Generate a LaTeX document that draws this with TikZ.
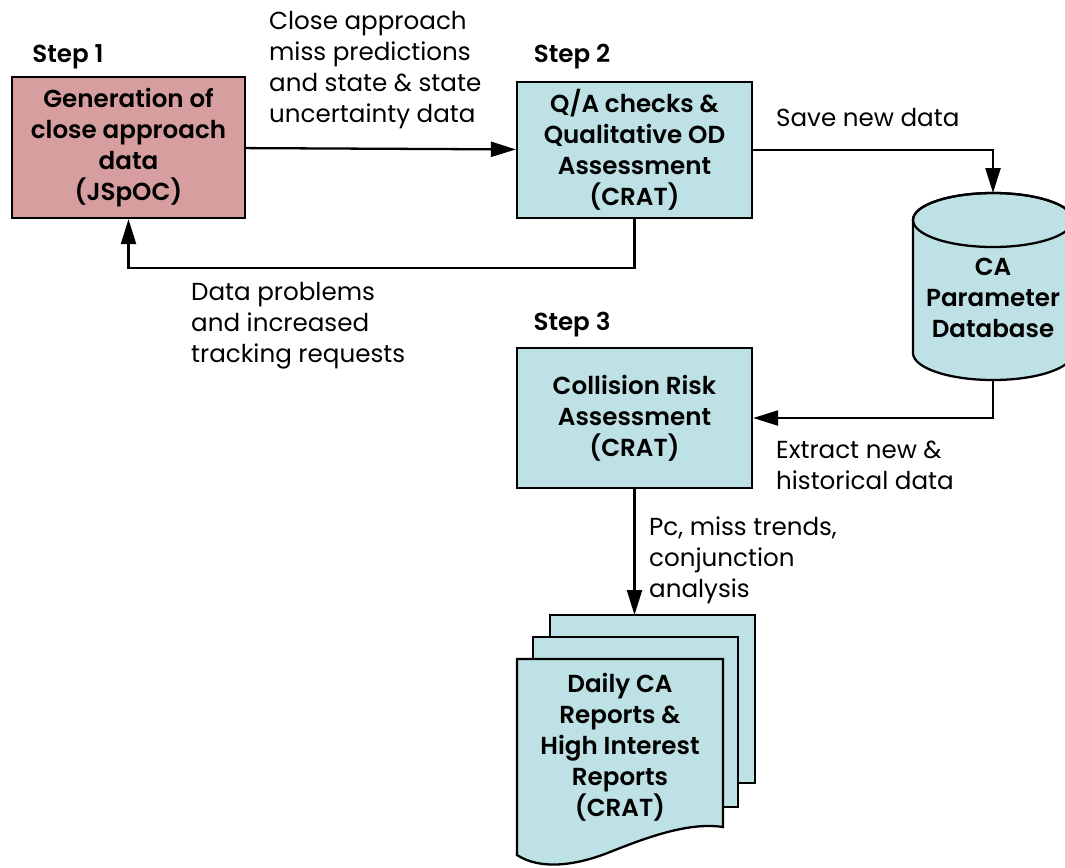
\documentclass[tikz,border=0pt]{standalone}
\usepackage{fontspec}
\setmainfont{Poppins}[BoldFont={Poppins SemiBold}]
\usepackage{xcolor}
\usetikzlibrary{arrows.meta,positioning}
\definecolor{boxcyan}{RGB}{189,225,228}
\definecolor{boxred}{RGB}{214,158,158}

\begin{document}
\begin{tikzpicture}[
    x=0.02cm, y=-0.02cm,
    >={Triangle[length=0.5cm,width=0.3cm]},
    line width=1.3pt,
    every node/.style={font=\fontsize{14}{17.6}\selectfont},
    stepbox/.style={rectangle, draw, fill=boxcyan, align=center, inner sep=0pt,
                    font=\bfseries\fontsize{14}{17.6}\selectfont},
    steplabel/.style={font=\bfseries\fontsize{14}{17.6}\selectfont, inner sep=0pt},
    note/.style={align=left, anchor=west, inner sep=0pt},
    page/.style={draw, fill=boxcyan}
]
  \useasboundingbox (0,0) rectangle (1065,867);

  % nodes
  \node[stepbox, fill=boxred, minimum width=4.66cm, minimum height=2.82cm] (gen) at (128.5,147.5)
       {Generation of\\close approach\\data\\(JSpOC)};
  \node[stepbox, minimum width=4.7cm, minimum height=2.72cm] (qa) at (634.5,150)
       {Q/A checks \&\\Qualitative OD\\Assessment\\(CRAT)};
  \node[stepbox, minimum width=4.7cm, minimum height=2.8cm] (cra) at (634.5,418)
       {Collision Risk\\Assessment\\(CRAT)};

  \node[steplabel] (s1) at (68,57) {Step 1};
  \node[steplabel] (s2) at (572,57) {Step 2};
  \node[steplabel] (s3) at (572,325) {Step 3};

  % database cylinder
  \draw[page] (913,220) -- (913,353) arc[start angle=180, end angle=0, x radius=80, y radius=27]
       -- (1073,220) arc[start angle=0, end angle=-180, x radius=80, y radius=27] -- cycle;
  \draw (993,220) ellipse[x radius=80, y radius=27];
  \coordinate (dbtop) at (993,193);
  \coordinate (dbbot) at (993,380);
  \node[align=center, inner sep=0pt, font=\bfseries\fontsize{14}{17.6}\selectfont] (db) at (993,298)
       {CA\\Parameter\\Database};

  % report pages
  \draw[page] (550,615) rectangle (755,783);
  \draw[page] (533,637) rectangle (738,807);
  \draw[page] (517,659) -- (723,659) -- (723,827)
       .. controls (690,822) and (650,836) .. (610,852)
       .. controls (575,866) and (540,870) .. (517,855) -- cycle;
  \coordinate (reptop) at (634.5,615);
  \node[align=center, inner sep=0pt, font=\bfseries\fontsize{14}{17.6}\selectfont] (rep) at (620,747)
       {Daily CA\\Reports \&\\High Interest\\Reports\\(CRAT)};

  % edge labels
  \node[note] (n1) at (268,70) {Close approach\\miss predictions\\and state \& state\\uncertainty data};
  \node[note] (n2) at (775,117) {Save new data};
  \node[note] (n3) at (190,326) {Data problems\\and increased\\tracking requests};
  \node[note] (n4) at (775,465) {Extract new \&\\historical data};
  \node[note] (n5) at (648,560) {Pc, miss trends,\\conjunction\\analysis};

  % edges
  \draw[->] (gen) -- (qa);
  \draw[->] (qa.south) -- ++(0,49) -| (gen.south);
  \draw[->] (qa.east) -| (dbtop);
  \draw[->] (dbbot) |- (cra.east);
  \draw[->] (cra.south) -- (reptop);
\end{tikzpicture}
\end{document}
